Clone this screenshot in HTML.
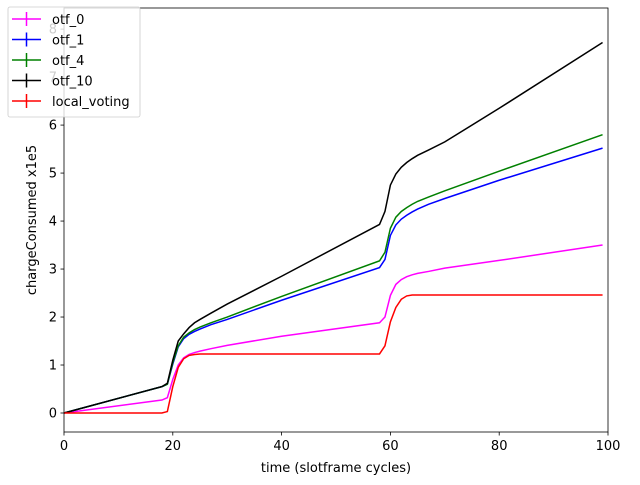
<!DOCTYPE html>
<html><head><meta charset="utf-8"><style>
body{margin:0;background:#fff;font-family:"Liberation Sans","DejaVu Sans",sans-serif}
</style></head><body>
<svg id="chart" width="640" height="480" xmlns="http://www.w3.org/2000/svg" font-family="DejaVu Sans, Liberation Sans, sans-serif"></svg>
<script>
const xs = [0,18,19,20,21,22,23,24,25,27,30,40,58,59,60,61,62,63,64,65,67,70,80,99];
const seriesNames = ["otf_0","otf_1","otf_4","otf_10","local_voting"];
const otf0 = [0,0.27,0.32,0.7,1.0,1.15,1.22,1.26,1.29,1.34,1.41,1.6,1.88,2.0,2.45,2.68,2.78,2.84,2.88,2.91,2.95,3.02,3.18,3.5];
const otf1 = [0,0.55,0.6,1.02,1.38,1.55,1.64,1.7,1.75,1.84,1.95,2.35,3.03,3.2,3.7,3.92,4.04,4.12,4.19,4.25,4.35,4.47,4.85,5.52];
const otf4 = [0,0.55,0.6,1.05,1.4,1.58,1.67,1.74,1.79,1.88,2.0,2.43,3.17,3.35,3.85,4.08,4.2,4.28,4.35,4.41,4.5,4.63,5.04,5.8];
const otf10 = [0,0.55,0.62,1.1,1.5,1.65,1.78,1.88,1.95,2.08,2.27,2.85,3.93,4.2,4.75,4.98,5.12,5.22,5.3,5.37,5.48,5.65,6.35,7.72];
const localVoting = [0,0,0.03,0.55,0.95,1.13,1.2,1.22,1.23,1.23,1.23,1.23,1.23,1.4,1.9,2.2,2.37,2.44,2.46,2.46,2.46,2.46,2.46,2.46];
const xTicks = [0,20,40,60,80,100];
const yTicks = [0,1,2,3,4,5,6,7,8];
const colors = ["#ff00ff","#0000ff","#008000","#000000","#ff0000"];
const allSeries = [otf0,otf1,otf4,otf10,localVoting];

const L=64,R=608,T=8,B=432;
const xMin=0,xMax=100,yMin=-0.396,yMax=8.44;
const sx=v=>L+(v-xMin)/(xMax-xMin)*(R-L);
const sy=v=>B-(v-yMin)/(yMax-yMin)*(B-T);
const svg=document.getElementById('chart');
const NS='http://www.w3.org/2000/svg';
function mk(tag,attrs,parent){const e=document.createElementNS(NS,tag);for(const k in attrs)e.setAttribute(k,attrs[k]);(parent||svg).appendChild(e);return e;}

allSeries.forEach((s,i)=>{
  const p=mk('polyline',{points:s.map((v,j)=>sx(xs[j])+','+sy(v)).join(' '),fill:'none',stroke:colors[i],'stroke-width':1.5});
  
  
});
const frame=mk('rect',{x:L,y:T,width:R-L,height:B-T,fill:'none',stroke:'#000','stroke-width':0.8});


xTicks.forEach(t=>{
  mk('line',{x1:sx(t),x2:sx(t),y1:B,y2:B+3.5,stroke:'#000','stroke-width':0.8});
  const tx=mk('text',{x:sx(t),y:B+18,'font-size':13,'text-anchor':'middle'});tx.textContent=t;
  
  
});
yTicks.forEach(t=>{
  mk('line',{x1:L-3.5,x2:L,y1:sy(t),y2:sy(t),stroke:'#000','stroke-width':0.8});
  const tx=mk('text',{x:L-7,y:sy(t)+4.5,'font-size':13,'text-anchor':'end'});tx.textContent=t;
  
  
});
const xt=mk('text',{x:(L+R)/2,y:472,'font-size':13,'text-anchor':'middle'});xt.textContent='time (slotframe cycles)';


const yt=mk('text',{x:36,y:(T+B)/2,'font-size':13,'text-anchor':'middle',transform:'rotate(-90 36 '+((T+B)/2)+')'});yt.textContent='chargeConsumed x1e5';



const lg=mk('g',{});


mk('rect',{x:8,y:7,width:132,height:110,rx:2,fill:'#fff','fill-opacity':0.8,stroke:'#ccc','stroke-width':0.8},lg);
seriesNames.forEach((n,i)=>{
  const y=19+i*20.5;
  const g=mk('g',{},lg);
  
  
  mk('line',{x1:12,x2:41,y1:y,y2:y,stroke:colors[i],'stroke-width':1.5},g);
  mk('line',{x1:26.5,x2:26.5,y1:y-7,y2:y+7,stroke:colors[i],'stroke-width':1.5},g);
  const t=mk('text',{x:52,y:y+5,'font-size':13},g);t.textContent=n;
});
</script>
</body></html>
